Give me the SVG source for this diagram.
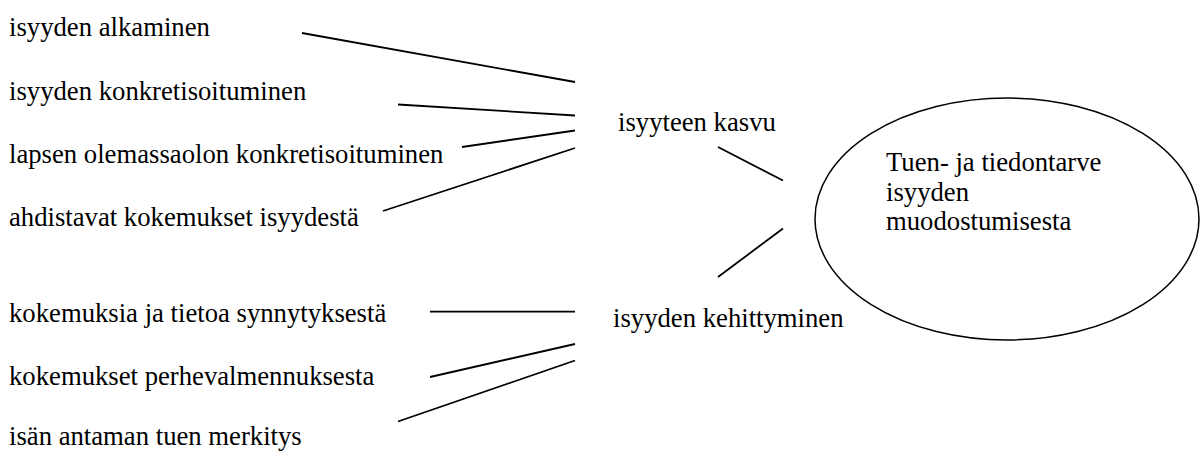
<svg xmlns="http://www.w3.org/2000/svg" width="1203" height="454" viewBox="0 0 1203 454">
<style>
text{font-family:"Liberation Serif","Times New Roman",serif;font-size:26.7px;fill:#000}
.c line{stroke:#000;stroke-width:1.8;stroke-linecap:butt}
</style>
<rect width="1203" height="454" fill="#fff"/>
<g id="n1"><text x="9" y="36">isyyden alkaminen</text></g>
<g id="n2"><text x="9" y="99.5">isyyden konkretisoituminen</text></g>
<g id="n3"><text x="9" y="162.5">lapsen olemassaolon konkretisoituminen</text></g>
<g id="n4"><text x="9" y="226">ahdistavat kokemukset isyydestä</text></g>
<g id="n5"><text x="9" y="322">kokemuksia ja tietoa synnytyksestä</text></g>
<g id="n6"><text x="9" y="385">kokemukset perhevalmennuksesta</text></g>
<g id="n7"><text x="9" y="445">isän antaman tuen merkitys</text></g>
<g id="kasvu"><text x="618" y="131">isyyteen kasvu</text></g>
<g id="kehitt"><text x="613" y="326.5">isyyden kehittyminen</text></g>
<g id="tuki">
<ellipse cx="1007" cy="219" rx="192" ry="121" fill="none" stroke="#000" stroke-width="1.5"/>
<text x="886" y="171">Tuen- ja tiedontarve</text>
<text x="886" y="200.5">isyyden</text>
<text x="886" y="230">muodostumisesta</text>
</g>
<g class="c" id="connectors">
<line x1="302" y1="33" x2="575" y2="82"/>
<line x1="398" y1="104.5" x2="575" y2="115.5"/>
<line x1="462" y1="147" x2="575" y2="130.5"/>
<line x1="383" y1="211" x2="575" y2="148"/>
<line x1="718" y1="147" x2="783" y2="180.5"/>
<line x1="718" y1="277" x2="783" y2="228.5"/>
<line x1="430" y1="311.7" x2="575" y2="311.7"/>
<line x1="430" y1="377" x2="575" y2="344"/>
<line x1="398" y1="421.5" x2="575" y2="360.5"/>
</g>
</svg>
